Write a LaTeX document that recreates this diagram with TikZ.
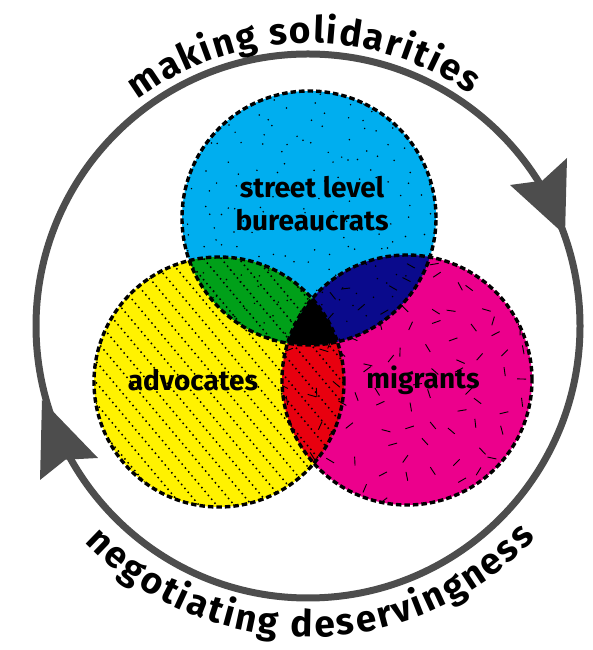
\documentclass[tikz,border=0pt]{standalone}
\usepackage{fontspec}
\setmainfont{Fira Sans}
\usetikzlibrary{decorations.text}
\definecolor{cyanc}{HTML}{00AEEF}
\definecolor{yellowc}{HTML}{FFF200}
\definecolor{magentac}{HTML}{EC008C}
\definecolor{greenc}{HTML}{00A019}
\definecolor{navyc}{HTML}{0A0A8C}
\definecolor{redc}{HTML}{E8000F}
\definecolor{ringgray}{HTML}{4D4D4D}
\newcommand\arcfnt{\fontsize{37}{42}\selectfont\bfseries}
\tikzset{
  ringline/.style={draw=ringgray, line width=7pt},
  dashedrim/.style={draw=black, line width=3.4pt, dash pattern=on 5.5pt off 3pt},
  vennlabel/.style={font=\fontsize{28}{33}\selectfont\bfseries, align=center, inner sep=0pt, text=black},
  hatchline/.style={draw=black, line width=1.5pt, dash pattern=on 1.5pt off 3.6pt},
  flick/.style={draw=black, line width=0.9pt},
  headfill/.style={fill=ringgray},
}
\begin{document}
\begin{tikzpicture}[x=1pt,y=1pt]
\useasboundingbox (0,0) rectangle (592,650);
\def\bx{309}\def\by{432}\def\br{127}
\def\yx{219}\def\yy{268}\def\yr{125}
\def\mx{407}\def\my{270}\def\mr{125}
% base fills
\fill[cyanc] (\bx,\by) circle (\br);
\fill[yellowc] (\yx,\yy) circle (\yr);
\fill[magentac] (\mx,\my) circle (\mr);
% overlaps
\begin{scope}
  \clip (\yx,\yy) circle (\yr);
  \fill[redc] (\mx,\my) circle (\mr);
\end{scope}
\begin{scope}
  \clip (\bx,\by) circle (\br);
  \fill[greenc] (\yx,\yy) circle (\yr);
  \fill[navyc] (\mx,\my) circle (\mr);
  \clip (\yx,\yy) circle (\yr);
  \fill[black] (\mx,\my) circle (\mr);
\end{scope}
% blue stipple (jittered grid)
\begin{scope}
  \clip (\bx,\by) circle (\br);
  \pgfmathsetseed{7}
  \foreach \i in {-7,...,7}{
    \foreach \j in {-7,...,7}{
      \pgfmathsetmacro\px{\bx+\i*17+8*(2*rnd-1)}
      \pgfmathsetmacro\py{\by+\j*17+8*(2*rnd-1)}
      \fill[black] (\px,\py) circle (0.85);
    }
  }
\end{scope}
% yellow dotted hatching
\begin{scope}
  \clip (\yx,\yy) circle (\yr);
  \begin{scope}[shift={(\yx,\yy)}, rotate=-50]
    \foreach \k in {-10,...,10}
      \draw[hatchline] (-140,\k*13.5) -- (140,\k*13.5);
  \end{scope}
\end{scope}
% magenta flicks (jittered grid)
\begin{scope}
  \clip (\mx,\my) circle (\mr);
  \pgfmathsetseed{3}
  \foreach \i in {-5,...,5}{
    \foreach \j in {-5,...,5}{
      \pgfmathsetmacro\px{\mx+\i*24+9*(2*rnd-1)}
      \pgfmathsetmacro\py{\my+\j*24+9*(2*rnd-1)}
      \pgfmathsetmacro\pa{360*rnd}
      \draw[flick] (\px,\py) -- ++(\pa:9);
    }
  }
\end{scope}
% dashed rims
\draw[dashedrim] (\bx,\by) circle (\br);
\draw[dashedrim] (\yx,\yy) circle (\yr);
\draw[dashedrim] (\mx,\my) circle (\mr);
% labels
\node[vennlabel] (slb) at (312,446) {street level\\bureaucrats};
\node[vennlabel] (adv) at (193,270) {advocates};
\node[vennlabel] (mig) at (423,270) {migrants};
% ring
\draw[ringline] (308,324) circle (272);
\fill[headfill] (565,415) -- (510,465) -- (542.3,469.3) -- (567,492) -- cycle;
\fill[headfill] (42,250) -- (40,170) -- (65.4,190.3) -- (98,192) -- cycle;
% curved texts
\path[shift={(308,324)}, decorate, decoration={text along path, text align={fit to path},
  text={|\arcfnt|making solidarities}}] (127:283) arc[start angle=127, end angle=55, radius=283];
\path[shift={(308,324)}, decorate, decoration={text along path, text align={fit to path},
  text={|\arcfnt|negotiating deservingness}}] (224:311) arc[start angle=224, end angle=317, radius=311];
\end{tikzpicture}
\end{document}
